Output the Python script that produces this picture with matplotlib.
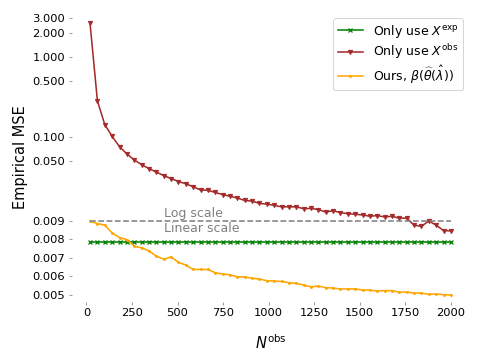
import numpy as np
import matplotlib
matplotlib.use('Agg')
import matplotlib.pyplot as plt

# Data
N_obs = np.linspace(20, 2000, 50)

mse_exp = [0.00785] * 50

mse_obs = [2.60, 0.282, 0.143, 0.102, 0.0758, 0.0616, 0.0519, 0.0453, 0.0404, 0.0366,
           0.0331, 0.0304, 0.0279, 0.0262, 0.0240, 0.0219, 0.0217, 0.0204, 0.0192, 0.0183,
           0.0174, 0.0162, 0.0159, 0.0149, 0.0146, 0.0141, 0.0135, 0.0135, 0.0135, 0.0128,
           0.0129, 0.0125, 0.0116, 0.0121, 0.0114, 0.0111, 0.0109, 0.0107, 0.0103, 0.0105,
           0.0101, 0.0103, 0.00975, 0.00975, 0.00877, 0.00871, 0.0090, 0.00877, 0.00848, 0.00846]

mse_ours = [0.00898, 0.00886, 0.00877, 0.00835, 0.00810, 0.00799, 0.00763, 0.00754, 0.00738, 0.00709,
            0.00693, 0.00705, 0.00675, 0.00661, 0.00637, 0.00637, 0.00637, 0.00619, 0.00612, 0.00608,
            0.00597, 0.00596, 0.00589, 0.00585, 0.00576, 0.00574, 0.00572, 0.00565, 0.00562, 0.00552,
            0.00543, 0.00547, 0.00538, 0.00536, 0.00531, 0.00531, 0.00532, 0.00525, 0.00525, 0.00520,
            0.00522, 0.00522, 0.00513, 0.00515, 0.00509, 0.00509, 0.00502, 0.00504, 0.00500, 0.00498]

yticks = [0.005, 0.006, 0.007, 0.008, 0.009, 0.05, 0.1, 0.5, 1.0, 2.0, 3.0]

# linear below the break, log above
brk = 0.009
k = 0.001 * 80.6 / 18.5


def fwd(v):
    v = np.asarray(v, dtype=float)
    return np.where(v <= brk, v, brk + k * np.log10(np.maximum(v, 1e-12) / brk))


def inv(u):
    u = np.asarray(u, dtype=float)
    return np.where(u <= brk, u, brk * 10 ** np.minimum((u - brk) / k, 300))


fig = plt.figure(figsize=(6.4, 4.8), dpi=75)
ax = fig.add_axes([0.150, 0.1625, 0.827, 0.804])
ax.set_yscale('function', functions=(fwd, inv))

ax.plot(N_obs, mse_exp, color='green', marker='x', markersize=3.5, mew=1.2, lw=1.5,
        label=r'Only use $X^{\mathrm{exp}}$')
ax.plot(N_obs, mse_obs, color='brown', marker='v', markersize=4, lw=1.5,
        label=r'Only use $X^{\mathrm{obs}}$')
ax.plot(N_obs, mse_ours, color='orange', marker='.', markersize=3.5, lw=1.5,
        label=r'Ours, $\beta(\widehat{\theta}(\hat{\lambda}))$')

ax.hlines(brk, N_obs[0], N_obs[-1], colors='gray', linestyles='--', lw=1.5)
ax.annotate('Log scale', (428, brk), xytext=(0, 7.5), textcoords='offset pixels',
            color='gray', fontsize=12, va='center')
ax.annotate('Linear scale', (428, brk), xytext=(0, -7.5), textcoords='offset pixels',
            color='gray', fontsize=12, va='center')

ax.set_xlim(-79, 2099)
ax.set_ylim(0.00463, 3.6)
ax.set_yticks(yticks)
ax.set_yticklabels(['%.3f' % t for t in yticks])
ax.set_xticks(np.arange(0, 2001, 250))
ax.tick_params(labelsize=11, length=3, color='#888888')
for s in ax.spines.values():
    s.set_visible(False)

ax.set_xlabel(r'$N^{\mathrm{obs}}$', fontsize=14, labelpad=14)
ax.set_ylabel('Empirical MSE', fontsize=14)
ax.legend(loc='upper right', fontsize=12, labelspacing=0.2, borderpad=0.35)

fig.savefig('out.png', dpi=75)
